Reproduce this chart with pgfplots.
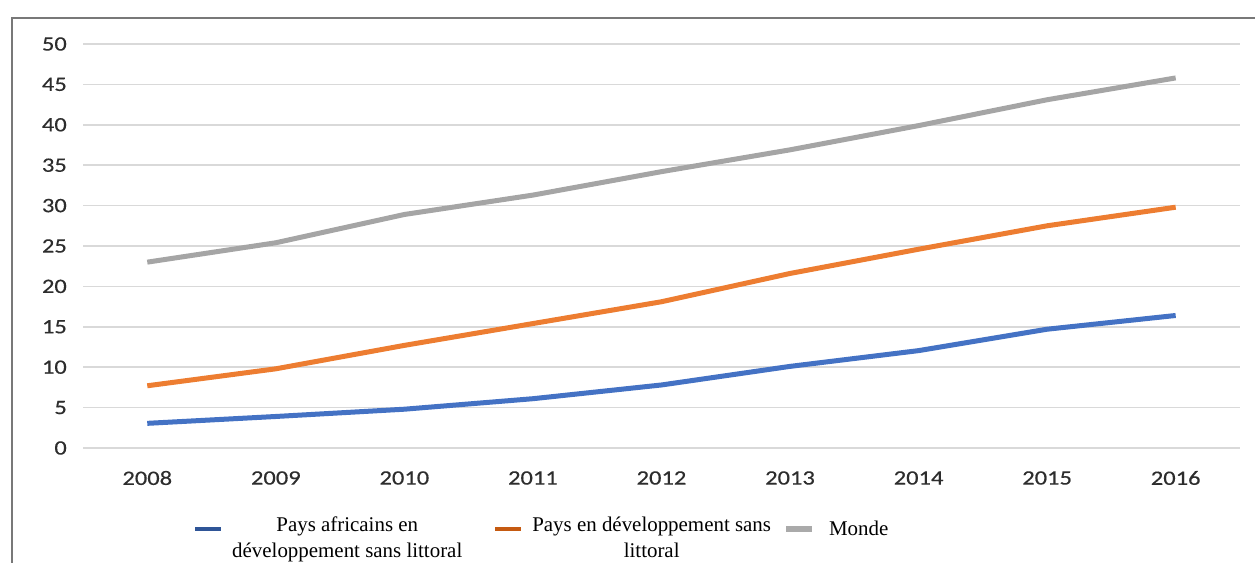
\documentclass[border=0pt]{standalone}
\usepackage{pgfplots}
\pgfplotsset{compat=1.18}
\usepackage{fontspec}
\newfontfamily\ticfont[FakeStretch=1.2,FakeBold=0.4]{Carlito}
\newfontfamily\legfont{Liberation Serif}
\definecolor{lblue}{RGB}{68,114,196}
\definecolor{lorange}{RGB}{237,125,49}
\definecolor{lgray}{RGB}{165,165,165}
\definecolor{sblue}{RGB}{47,85,151}
\definecolor{sorange}{RGB}{197,90,17}
\definecolor{sgray}{RGB}{170,170,170}
\definecolor{gridc}{RGB}{217,217,217}
\definecolor{tickc}{RGB}{45,45,45}
\definecolor{framec}{RGB}{120,120,120}
\begin{document}
\begin{tikzpicture}[x=1bp,y=1bp]
\useasboundingbox (0,0) rectangle (1255,563);
\draw[framec, line width=1.8bp] (12,0) -- (12,545) -- (1255,545);
\begin{axis}[
  at={(83bp,115bp)}, anchor=south west,
  scale only axis, width=1157bp, height=404bp,
  xmin=2007.5, xmax=2016.5, ymin=0, ymax=50,
  xtick={2008,2009,2010,2011,2012,2013,2014,2015,2016},
  ytick={0,5,10,15,20,25,30,35,40,45,50},
  axis line style={draw=none},
  major tick length=0pt,
  ymajorgrids, grid style={gridc, line width=1.6bp},
  /pgf/number format/1000 sep={},
  /pgf/number format/assume math mode=true,
  ticklabel style={font=\ticfont\fontsize{20.5}{24}\selectfont, text=tickc, inner sep=0pt},
  xticklabel style={anchor=center, yshift=-30bp},
  yticklabel style={anchor=east, xshift=-16bp},
  legend columns=3,
  legend style={draw=none, fill=none, inner sep=0pt,
    at={(axis description cs:0.0951,-0.2017)}, anchor=west,
    font=\legfont\fontsize{21}{26.5}\selectfont,
    nodes={inner sep=0pt},
    column sep=9bp,
    /tikz/column 2/.style={column sep=31bp},
    /tikz/column 4/.style={column sep=12bp},
    /tikz/column 5/.style={column sep=14bp}},
  legend image code/.code={\draw[#1] (0bp,0bp) -- (26bp,0bp);},
  every axis plot/.append style={line width=5bp, line join=round},
]
\addplot[lblue, no markers, legend image post style={sblue, line width=4bp}] coordinates {
(2008,3.05) (2009,3.9) (2010,4.8) (2011,6.1) (2012,7.8) (2013,10.1) (2014,12.05) (2015,14.7) (2016,16.4)};
\addlegendentry{\begin{tabular}{@{}c@{}}Pays africains en\\développement sans littoral\end{tabular}}
\addplot[lorange, no markers, legend image post style={sorange, line width=4bp}] coordinates {
(2008,7.7) (2009,9.8) (2010,12.7) (2011,15.4) (2012,18.1) (2013,21.6) (2014,24.6) (2015,27.5) (2016,29.8)};
\addlegendentry{\begin{tabular}{@{}c@{}}Pays en développement sans\\littoral\end{tabular}}
\addplot[lgray, no markers, legend image post style={sgray, line width=6bp}] coordinates {
(2008,23.0) (2009,25.4) (2010,28.9) (2011,31.3) (2012,34.2) (2013,36.9) (2014,39.9) (2015,43.1) (2016,45.8)};
\addlegendentry{Monde}
\end{axis}
\end{tikzpicture}
\end{document}
